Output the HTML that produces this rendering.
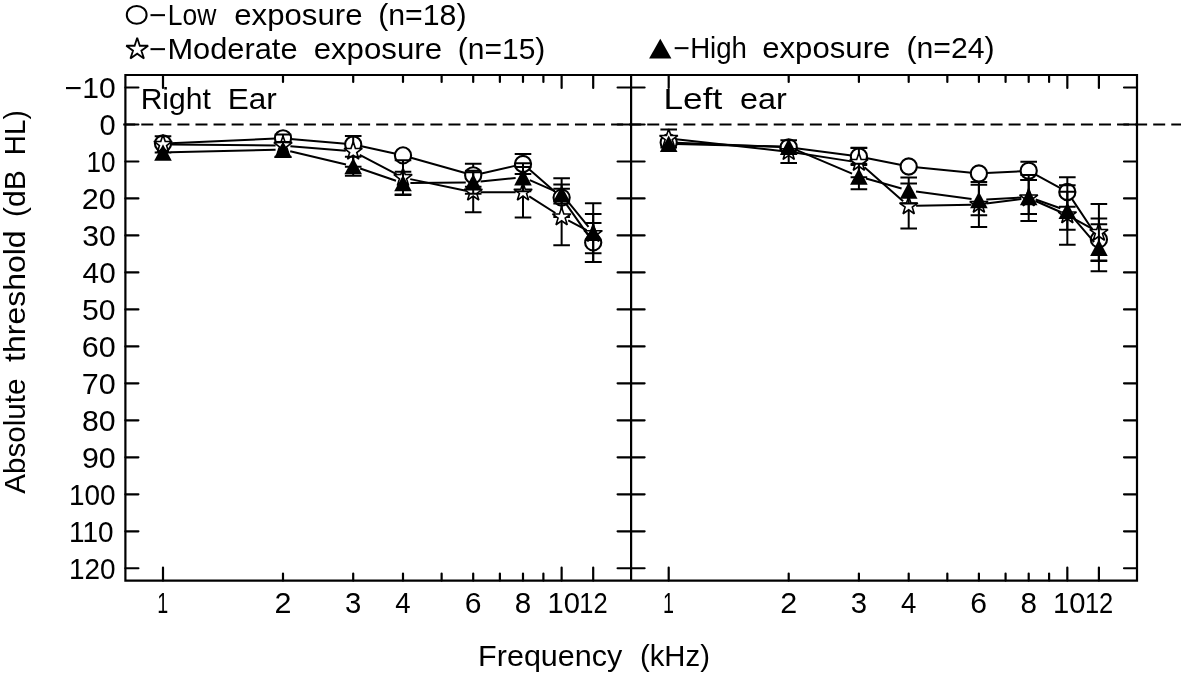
<!DOCTYPE html>
<html><head><meta charset="utf-8"><title>Absolute threshold</title>
<style>
html,body{margin:0;padding:0;background:#fff;}
svg{display:block;}
text{font-family:"Liberation Sans",sans-serif;font-size:29.0px;fill:#000;}
</style></head><body>
<svg width="1181" height="675" viewBox="0 0 1181 675">
<rect width="1181" height="675" fill="#fff"/>
<g fill="none" stroke="#000" stroke-width="2.2" stroke-linecap="butt">
<path d="M125.4,75.0H1137.0V580.6H125.4Z M631.1,75.0V580.6"/>
<path d="M125.4,87.52h13 M617.6,87.52h27 M1137.0,87.52h-13 M125.4,124.50h13 M617.6,124.50h27 M1137.0,124.50h-13 M125.4,161.48h13 M617.6,161.48h27 M1137.0,161.48h-13 M125.4,198.46h13 M617.6,198.46h27 M1137.0,198.46h-13 M125.4,235.44h13 M617.6,235.44h27 M1137.0,235.44h-13 M125.4,272.42h13 M617.6,272.42h27 M1137.0,272.42h-13 M125.4,309.40h13 M617.6,309.40h27 M1137.0,309.40h-13 M125.4,346.38h13 M617.6,346.38h27 M1137.0,346.38h-13 M125.4,383.36h13 M617.6,383.36h27 M1137.0,383.36h-13 M125.4,420.34h13 M617.6,420.34h27 M1137.0,420.34h-13 M125.4,457.32h13 M617.6,457.32h27 M1137.0,457.32h-13 M125.4,494.30h13 M617.6,494.30h27 M1137.0,494.30h-13 M125.4,531.28h13 M617.6,531.28h27 M1137.0,531.28h-13 M125.4,568.26h13 M617.6,568.26h27 M1137.0,568.26h-13 " stroke-linecap="round"/>
<path d="M163.00,75.0v13 M163.00,580.6v-13 M283.00,75.0v7 M283.00,580.6v-7 M353.20,75.0v7 M353.20,580.6v-7 M403.00,75.0v7 M403.00,580.6v-7 M441.63,75.0v7 M441.63,580.6v-7 M473.20,75.0v7 M473.20,580.6v-7 M499.88,75.0v7 M499.88,580.6v-7 M523.00,75.0v7 M523.00,580.6v-7 M543.39,75.0v7 M543.39,580.6v-7 M561.63,75.0v13 M561.63,580.6v-13 M593.20,75.0v13 M593.20,580.6v-13 M668.70,75.0v13 M668.70,580.6v-13 M788.70,75.0v7 M788.70,580.6v-7 M858.90,75.0v7 M858.90,580.6v-7 M908.70,75.0v7 M908.70,580.6v-7 M947.33,75.0v7 M947.33,580.6v-7 M978.90,75.0v7 M978.90,580.6v-7 M1005.58,75.0v7 M1005.58,580.6v-7 M1028.70,75.0v7 M1028.70,580.6v-7 M1049.09,75.0v7 M1049.09,580.6v-7 M1067.33,75.0v13 M1067.33,580.6v-13 M1098.90,75.0v13 M1098.90,580.6v-13 " stroke-linecap="round"/>
<path d="M123.2,124.50H1181" stroke-dasharray="12 6.07"/>
</g>
<g fill="none" stroke="#000" stroke-width="2"><path d="M170.39,143.18L275.61,138.62 M290.37,138.95L345.82,143.85 M360.42,146.08L395.77,153.82 M410.12,157.42L466.08,173.28 M480.41,173.66L515.78,165.64 M528.58,168.86L556.05,192.74 M565.89,203.65L588.93,236.35 "/><path d="M473.20,163.80V186.80 M464.90,163.80h16.6 M464.90,186.80h16.6 M523.00,154.00V174.00 M514.70,154.00h16.6 M514.70,174.00h16.6 M561.63,178.30V216.90 M553.33,178.30h16.6 M553.33,216.90h16.6 M593.20,222.90V261.90 M584.90,222.90h16.6 M584.90,261.90h16.6 "/></g><g fill="#fff" stroke="#000" stroke-width="2.1"><circle cx="163.00" cy="143.50" r="8.1"/><circle cx="283.00" cy="138.30" r="8.1"/><circle cx="353.20" cy="144.50" r="8.1"/><circle cx="403.00" cy="155.40" r="8.1"/><circle cx="473.20" cy="175.30" r="8.1"/><circle cx="523.00" cy="164.00" r="8.1"/><circle cx="561.63" cy="197.60" r="8.1"/><circle cx="593.20" cy="242.40" r="8.1"/></g>
<g fill="none" stroke="#000" stroke-width="2"><path d="M170.40,144.47L275.60,145.53 M290.37,146.21L345.82,150.79 M359.74,154.85L396.45,174.15 M410.24,179.12L465.95,190.78 M480.60,192.30L515.60,192.30 M529.23,196.29L555.40,213.01 M568.17,220.46L586.65,230.24 "/><path d="M163.00,136.20V152.60 M154.70,136.20h16.6 M154.70,152.60h16.6 M283.00,134.40V156.80 M274.70,134.40h16.6 M274.70,156.80h16.6 M353.20,136.10V166.70 M344.90,136.10h16.6 M344.90,166.70h16.6 M403.00,160.30V194.90 M394.70,160.30h16.6 M394.70,194.90h16.6 M473.20,172.30V212.30 M464.90,172.30h16.6 M464.90,212.30h16.6 M523.00,167.00V217.60 M514.70,167.00h16.6 M514.70,217.60h16.6 M561.63,188.80V245.20 M553.33,188.80h16.6 M553.33,245.20h16.6 M593.20,214.10V253.30 M584.90,214.10h16.6 M584.90,253.30h16.6 "/></g><g fill="#fff" stroke="#000" stroke-width="1.6" stroke-linejoin="miter" stroke-miterlimit="3"><path d="M163.00,134.80L165.20,141.37L172.13,141.43L166.57,145.56L168.64,152.17L163.00,148.15L157.36,152.17L159.43,145.56L153.87,141.43L160.80,141.37Z"/><path d="M283.00,136.00L285.20,142.57L292.13,142.63L286.57,146.76L288.64,153.37L283.00,149.35L277.36,153.37L279.43,146.76L273.87,142.63L280.80,142.57Z"/><path d="M353.20,141.80L355.40,148.37L362.33,148.43L356.76,152.56L358.84,159.17L353.20,155.15L347.55,159.17L349.63,152.56L344.07,148.43L350.99,148.37Z"/><path d="M403.00,168.00L405.20,174.57L412.13,174.63L406.57,178.76L408.64,185.37L403.00,181.35L397.36,185.37L399.43,178.76L393.87,174.63L400.80,174.57Z"/><path d="M473.20,182.70L475.40,189.27L482.33,189.33L476.76,193.46L478.84,200.07L473.20,196.05L467.55,200.07L469.63,193.46L464.07,189.33L470.99,189.27Z"/><path d="M523.00,182.70L525.20,189.27L532.13,189.33L526.57,193.46L528.64,200.07L523.00,196.05L517.36,200.07L519.43,193.46L513.87,189.33L520.80,189.27Z"/><path d="M561.63,207.40L563.84,213.97L570.76,214.03L565.20,218.16L567.27,224.77L561.63,220.75L555.99,224.77L558.06,218.16L552.50,214.03L559.43,213.97Z"/><path d="M593.20,224.10L595.40,230.67L602.33,230.73L596.76,234.86L598.84,241.47L593.20,237.45L587.55,241.47L589.63,234.86L584.07,230.73L590.99,230.67Z"/></g>
<g fill="none" stroke="#000" stroke-width="2"><path d="M170.40,152.32L275.60,149.68 M290.20,151.21L346.00,164.44 M360.20,168.53L395.99,180.72 M410.40,183.02L465.80,182.38 M480.56,181.55L515.64,177.95 M529.79,180.15L554.85,191.05 M566.31,199.73L588.52,226.97 "/><path d="M283.00,141.90V157.10 M274.70,141.90h16.6 M274.70,157.10h16.6 M353.20,156.65V175.65 M344.90,156.65h16.6 M344.90,175.65h16.6 M403.00,171.70V194.50 M394.70,171.70h16.6 M394.70,194.50h16.6 M473.20,170.80V193.80 M464.90,170.80h16.6 M464.90,193.80h16.6 M523.00,163.20V191.20 M514.70,163.20h16.6 M514.70,191.20h16.6 M561.63,184.50V203.50 M553.33,184.50h16.6 M553.33,203.50h16.6 M593.20,203.30V262.10 M584.90,203.30h16.6 M584.90,262.10h16.6 "/></g><g fill="#000" stroke="none"><path d="M154.20,160.70L163.00,144.30L171.80,160.70Z"/><path d="M274.20,157.70L283.00,141.30L291.80,157.70Z"/><path d="M344.40,174.35L353.20,157.95L362.00,174.35Z"/><path d="M394.20,191.30L403.00,174.90L411.80,191.30Z"/><path d="M464.40,190.50L473.20,174.10L482.00,190.50Z"/><path d="M514.20,185.40L523.00,169.00L531.80,185.40Z"/><path d="M552.83,202.20L561.63,185.80L570.43,202.20Z"/><path d="M584.40,240.90L593.20,224.50L602.00,240.90Z"/></g>
<g fill="none" stroke="#000" stroke-width="2"><path d="M676.09,142.80L781.31,147.00 M796.04,148.26L851.56,155.54 M866.15,157.96L901.44,165.04 M916.06,167.23L971.53,172.77 M986.28,173.10L1021.31,171.20 M1035.19,174.36L1060.84,188.44 M1071.43,198.16L1094.79,233.24 "/><path d="M858.90,148.10V164.90 M850.60,148.10h16.6 M850.60,164.90h16.6 M1028.70,161.70V179.90 M1020.40,161.70h16.6 M1020.40,179.90h16.6 M1067.33,177.20V206.80 M1059.03,177.20h16.6 M1059.03,206.80h16.6 M1098.90,218.40V260.40 M1090.60,218.40h16.6 M1090.60,260.40h16.6 "/></g><g fill="#fff" stroke="#000" stroke-width="2.1"><circle cx="668.70" cy="142.50" r="8.1"/><circle cx="788.70" cy="147.30" r="8.1"/><circle cx="858.90" cy="156.50" r="8.1"/><circle cx="908.70" cy="166.50" r="8.1"/><circle cx="978.90" cy="173.50" r="8.1"/><circle cx="1028.70" cy="170.80" r="8.1"/><circle cx="1067.33" cy="192.00" r="8.1"/><circle cx="1098.90" cy="239.40" r="8.1"/></g>
<g fill="none" stroke="#000" stroke-width="2"><path d="M676.06,139.31L781.34,150.89 M796.01,152.83L851.58,161.37 M864.47,167.37L903.13,201.13 M916.10,205.84L971.50,204.66 M986.23,203.54L1021.36,198.96 M1035.47,200.98L1060.56,212.02 M1073.80,218.59L1092.42,228.91 "/><path d="M668.70,129.50V147.50 M660.40,129.50h16.6 M660.40,147.50h16.6 M788.70,140.30V163.10 M780.40,140.30h16.6 M780.40,163.10h16.6 M858.90,147.70V177.30 M850.60,147.70h16.6 M850.60,177.30h16.6 M908.70,183.50V228.50 M900.40,183.50h16.6 M900.40,228.50h16.6 M978.90,181.90V227.10 M970.60,181.90h16.6 M970.60,227.10h16.6 M1028.70,175.00V221.00 M1020.40,175.00h16.6 M1020.40,221.00h16.6 M1067.33,185.20V244.80 M1059.03,185.20h16.6 M1059.03,244.80h16.6 M1098.90,203.90V261.10 M1090.60,203.90h16.6 M1090.60,261.10h16.6 "/></g><g fill="#fff" stroke="#000" stroke-width="1.6" stroke-linejoin="miter" stroke-miterlimit="3"><path d="M668.70,128.90L670.90,135.47L677.83,135.53L672.27,139.66L674.34,146.27L668.70,142.25L663.06,146.27L665.13,139.66L659.57,135.53L666.50,135.47Z"/><path d="M788.70,142.10L790.90,148.67L797.83,148.73L792.27,152.86L794.34,159.47L788.70,155.45L783.06,159.47L785.13,152.86L779.57,148.73L786.50,148.67Z"/><path d="M858.90,152.90L861.10,159.47L868.03,159.53L862.46,163.66L864.54,170.27L858.90,166.25L853.25,170.27L855.33,163.66L849.77,159.53L856.69,159.47Z"/><path d="M908.70,196.40L910.90,202.97L917.83,203.03L912.27,207.16L914.34,213.77L908.70,209.75L903.06,213.77L905.13,207.16L899.57,203.03L906.50,202.97Z"/><path d="M978.90,194.90L981.10,201.47L988.03,201.53L982.46,205.66L984.54,212.27L978.90,208.25L973.25,212.27L975.33,205.66L969.77,201.53L976.69,201.47Z"/><path d="M1028.70,188.40L1030.90,194.97L1037.83,195.03L1032.27,199.16L1034.34,205.77L1028.70,201.75L1023.06,205.77L1025.13,199.16L1019.57,195.03L1026.50,194.97Z"/><path d="M1067.33,205.40L1069.54,211.97L1076.46,212.03L1070.90,216.16L1072.97,222.77L1067.33,218.75L1061.69,222.77L1063.76,216.16L1058.20,212.03L1065.13,211.97Z"/><path d="M1098.90,222.90L1101.10,229.47L1108.03,229.53L1102.46,233.66L1104.54,240.27L1098.90,236.25L1093.25,240.27L1095.33,233.66L1089.77,229.53L1096.69,229.47Z"/></g>
<g fill="none" stroke="#000" stroke-width="2"><path d="M676.10,143.89L781.30,146.61 M795.52,149.68L852.08,173.62 M866.02,178.50L901.58,188.50 M916.03,191.49L971.56,199.01 M986.28,199.56L1021.31,197.44 M1035.67,199.49L1060.36,208.31 M1072.13,216.43L1094.09,242.17 "/><path d="M858.90,163.70V189.30 M850.60,163.70h16.6 M850.60,189.30h16.6 M908.70,177.60V203.40 M900.40,177.60h16.6 M900.40,203.40h16.6 M978.90,184.70V215.30 M970.60,184.70h16.6 M970.60,215.30h16.6 M1028.70,180.00V214.00 M1020.40,180.00h16.6 M1020.40,214.00h16.6 M1067.33,191.80V229.80 M1059.03,191.80h16.6 M1059.03,229.80h16.6 M1098.90,224.30V271.30 M1090.60,224.30h16.6 M1090.60,271.30h16.6 "/></g><g fill="#000" stroke="none"><path d="M659.90,151.90L668.70,135.50L677.50,151.90Z"/><path d="M779.90,155.00L788.70,138.60L797.50,155.00Z"/><path d="M850.10,184.70L858.90,168.30L867.70,184.70Z"/><path d="M899.90,198.70L908.70,182.30L917.50,198.70Z"/><path d="M970.10,208.20L978.90,191.80L987.70,208.20Z"/><path d="M1019.90,205.20L1028.70,188.80L1037.50,205.20Z"/><path d="M1058.53,219.00L1067.33,202.60L1076.13,219.00Z"/><path d="M1090.10,256.00L1098.90,239.60L1107.70,256.00Z"/></g>
<ellipse cx="136.7" cy="14.9" rx="9.9" ry="8.9" fill="none" stroke="#000" stroke-width="2"/>
<path d="M137.20,37.80L139.79,45.74L148.14,45.75L141.38,50.66L143.96,58.60L137.20,53.70L130.44,58.60L133.02,50.66L126.26,45.75L134.61,45.74Z" fill="none" stroke="#000" stroke-width="1.8" stroke-miterlimit="3"/>
<path d="M649.1,58.5L660.3,38.7L671.4,58.5Z" fill="#000"/>
<g>
<text transform="translate(149.33,25.10) scale(1.0291,1.0000)">−</text>
<text transform="translate(167.83,25.10) scale(0.9137,1.0000)">Low</text>
<text transform="translate(234.28,25.10) scale(1.0747,1.0000)">exposure</text>
<text transform="translate(378.22,25.10) scale(1.0439,1.0000)">(n=18)</text>
<text transform="translate(149.33,59.20) scale(1.0291,1.0000)">−</text>
<text transform="translate(167.47,59.20) scale(1.0619,1.0000)">Moderate</text>
<text transform="translate(313.67,59.20) scale(1.0764,1.0000)">exposure</text>
<text transform="translate(457.84,59.20) scale(1.0341,1.0000)">(n=15)</text>
<text transform="translate(673.60,58.40) scale(0.9795,1.0000)">−</text>
<text transform="translate(690.13,58.40) scale(0.9534,1.0000)">High</text>
<text transform="translate(762.18,58.40) scale(1.0747,1.0000)">exposure</text>
<text transform="translate(906.43,58.40) scale(1.0415,1.0000)">(n=24)</text>
<text transform="translate(140.63,109.10) scale(1.0367,1.0000)">Right</text>
<text transform="translate(227.71,109.10) scale(1.0883,1.0000)">Ear</text>
<text transform="translate(663.51,109.10) scale(1.2145,1.0000)">Left</text>
<text transform="translate(740.02,109.10) scale(1.1169,1.0000)">ear</text>
<text transform="translate(64.62,98.02) scale(1.0380,1.0300)">−10</text>
<text transform="translate(99.46,135.00) scale(1.0027,1.0300)">0</text>
<text transform="translate(86.41,171.98) scale(0.9026,1.0300)">10</text>
<text transform="translate(81.77,208.96) scale(1.0517,1.0300)">20</text>
<text transform="translate(82.15,245.94) scale(1.0393,1.0300)">30</text>
<text transform="translate(82.62,282.92) scale(1.0243,1.0300)">40</text>
<text transform="translate(82.09,319.90) scale(1.0413,1.0300)">50</text>
<text transform="translate(81.75,356.88) scale(1.0522,1.0300)">60</text>
<text transform="translate(81.73,393.86) scale(1.0527,1.0300)">70</text>
<text transform="translate(81.98,430.84) scale(1.0447,1.0300)">80</text>
<text transform="translate(81.88,467.82) scale(1.0482,1.0300)">90</text>
<text transform="translate(68.97,504.80) scale(0.9635,1.0300)">100</text>
<text transform="translate(68.97,541.78) scale(0.9635,1.0300)">110</text>
<text transform="translate(68.97,578.76) scale(0.9635,1.0300)">120</text>
<text transform="translate(157.20,613.20) scale(0.6798,1.0200)">1</text>
<text transform="translate(274.47,613.20) scale(1.0521,1.0200)">2</text>
<text transform="translate(345.08,613.20) scale(1.0109,1.0200)">3</text>
<text transform="translate(395.37,613.20) scale(0.9512,1.0200)">4</text>
<text transform="translate(464.67,613.20) scale(1.0388,1.0200)">6</text>
<text transform="translate(514.71,613.20) scale(1.0215,1.0200)">8</text>
<text transform="translate(547.41,613.20) scale(1.0064,1.0200)">10</text>
<text transform="translate(579.26,613.20) scale(0.8779,1.0200)">12</text>
<text transform="translate(662.90,613.20) scale(0.6798,1.0200)">1</text>
<text transform="translate(780.17,613.20) scale(1.0521,1.0200)">2</text>
<text transform="translate(850.78,613.20) scale(1.0109,1.0200)">3</text>
<text transform="translate(901.07,613.20) scale(0.9512,1.0200)">4</text>
<text transform="translate(970.37,613.20) scale(1.0388,1.0200)">6</text>
<text transform="translate(1020.41,613.20) scale(1.0215,1.0200)">8</text>
<text transform="translate(1053.11,613.20) scale(1.0064,1.0200)">10</text>
<text transform="translate(1084.96,613.20) scale(0.8779,1.0200)">12</text>
<text transform="translate(478.10,665.70) scale(1.0529,1.0000)">Frequency</text>
<text transform="translate(639.98,665.70) scale(1.0097,1.0000)">(kHz)</text>
<text transform="translate(25.00,493.76) rotate(-90) scale(1.0205,1.0000)">Absolute</text>
<text transform="translate(25.00,361.88) rotate(-90) scale(1.1026,1.0000)">threshold</text>
<text transform="translate(25.00,216.97) rotate(-90) scale(1.0407,1.0000)">(dB</text>
<text transform="translate(25.00,155.19) rotate(-90) scale(0.9612,1.0000)">HL)</text>
</g>
</svg>
</body></html>
